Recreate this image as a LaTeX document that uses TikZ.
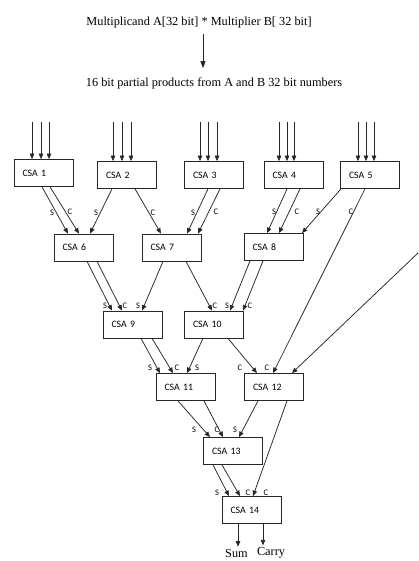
\documentclass[tikz,border=0pt]{standalone}
\usepackage{fontspec}
\setmainfont{Liberation Serif}
\newfontfamily\calfont{Carlito}
\usetikzlibrary{arrows.meta,calc}
\tikzset{
  csabox/.style={draw=black!85, line width=0.75pt, minimum height=27pt, text width=42pt,
    inner xsep=8.5pt, inner ysep=0pt, align=left, font=\calfont\fontsize{9.8}{11}\selectfont},
  arr/.style={draw=black!85, line width=0.75pt, -{Triangle[length=5.5pt,width=4.5pt]}},
  lab/.style={inner sep=0pt, font=\calfont\fontsize{8.5}{10}\selectfont},
  toptext/.style={inner sep=0pt, font=\fontsize{12.3}{14}\selectfont}
}
\begin{document}
\begin{tikzpicture}[x=1pt,y=-1pt]
\useasboundingbox (0,0) rectangle (418,561);
% top texts
\node[toptext] (t1) at (199,23) {Multiplicand A[32 bit] * Multiplier B[ 32 bit]};
\node[toptext] (t2) at (214,83) {16 bit partial products from A and B 32 bit numbers};
\draw[arr, -{Triangle[length=7pt,width=5pt]}, shorten <=5pt, shorten >=9pt] (203,0 |- t1.south) -- (203,0 |- t2.north);
% boxes
\node[csabox] (c1) at (43.5,173) {CSA 1};
\node[csabox] (c2) at (127,175) {CSA 2};
\node[csabox] (c3) at (214,175) {CSA 3};
\node[csabox] (c4) at (293.5,175) {CSA 4};
\node[csabox] (c5) at (370,175) {CSA 5};
\node[csabox] (c6) at (83.5,247.5) {CSA 6};
\node[csabox] (c7) at (171.5,247.5) {CSA 7};
\node[csabox] (c8) at (273.5,247) {CSA 8};
\node[csabox] (c9) at (132.5,324.5) {CSA 9};
\node[csabox] (c10) at (214,324.5) {CSA 10};
\node[csabox] (c11) at (185.5,387) {CSA 11};
\node[csabox] (c12) at (274,387) {CSA 12};
\node[csabox] (c13) at (233,451) {CSA 13};
\node[csabox] (c14) at (251.5,510) {CSA 14};
% input arrows
\foreach \b/\xa/\xb/\xc in {c1/32/41/49, c2/113/122/131, c3/200/208/217, c4/279/287/294, c5/358/366/374}{
  \foreach \x [count=\k] in {\xa,\xb,\xc}{
    \coordinate (in-\b-\k) at (\x,122);
    \draw[arr] (in-\b-\k) -- (\x,0 |- \b.north);
  }
}
% connectors: source, x at source, target, x at target
\foreach \s/\xs/\t/\xt in {
  c1/42/c6/68, c1/50/c6/79, c2/112/c6/90, c2/135/c7/161,
  c3/208/c7/187, c3/220/c7/198, c4/287/c8/267, c4/300/c8/279,
  c5/341/c8/302, c5/365/c12/273,
  c6/87/c9/112, c6/97/c9/122, c7/163/c9/142, c7/186/c10/212,
  c8/250/c10/230, c8/263/c10/243,
  c9/141/c11/160, c9/152/c11/173, c10/203/c11/187, c10/228/c12/257,
  c11/178/c13/210, c11/204/c13/223, c12/258/c13/239, c12/287/c14/253,
  c13/213/c14/229, c13/222/c14/240}{
  \draw[arr] (\xs,0 |- \s.south) -- (\xt,0 |- \t.north);
}
\coordinate (far) at (418,253);
\draw[arr] (far) -- (292,0 |- c12.north);
% outputs
\node[toptext] (sum) at (236.5,553) {Sum};
\node[toptext] (carry) at (271,553) {Carry};
\draw[arr, shorten >=2pt] (238,0 |- c14.south) -- (238,0 |- sum.north);
\draw[arr, shorten >=2pt] (263,0 |- c14.south) -- (263,0 |- carry.north);
% labels
\foreach \txt/\x/\y [count=\n] in {
  S/52/213, C/70/212, S/96/213, C/153/213, S/193/213, C/216/212,
  S/274/212, C/297/212, S/318/212, C/351/212,
  S/105/306, C/125/306, S/138/306, C/215/306, S/227/306, C/250/306,
  S/150/368, C/177/368, S/197/368, C/240/368, C/267/368,
  S/194/430, C/217/430, S/235/430,
  S/217/493, C/248/493, C/266/493}{
  \node[lab] (lab\n) at (\x,\y) {\txt};
}
\end{tikzpicture}
\end{document}
